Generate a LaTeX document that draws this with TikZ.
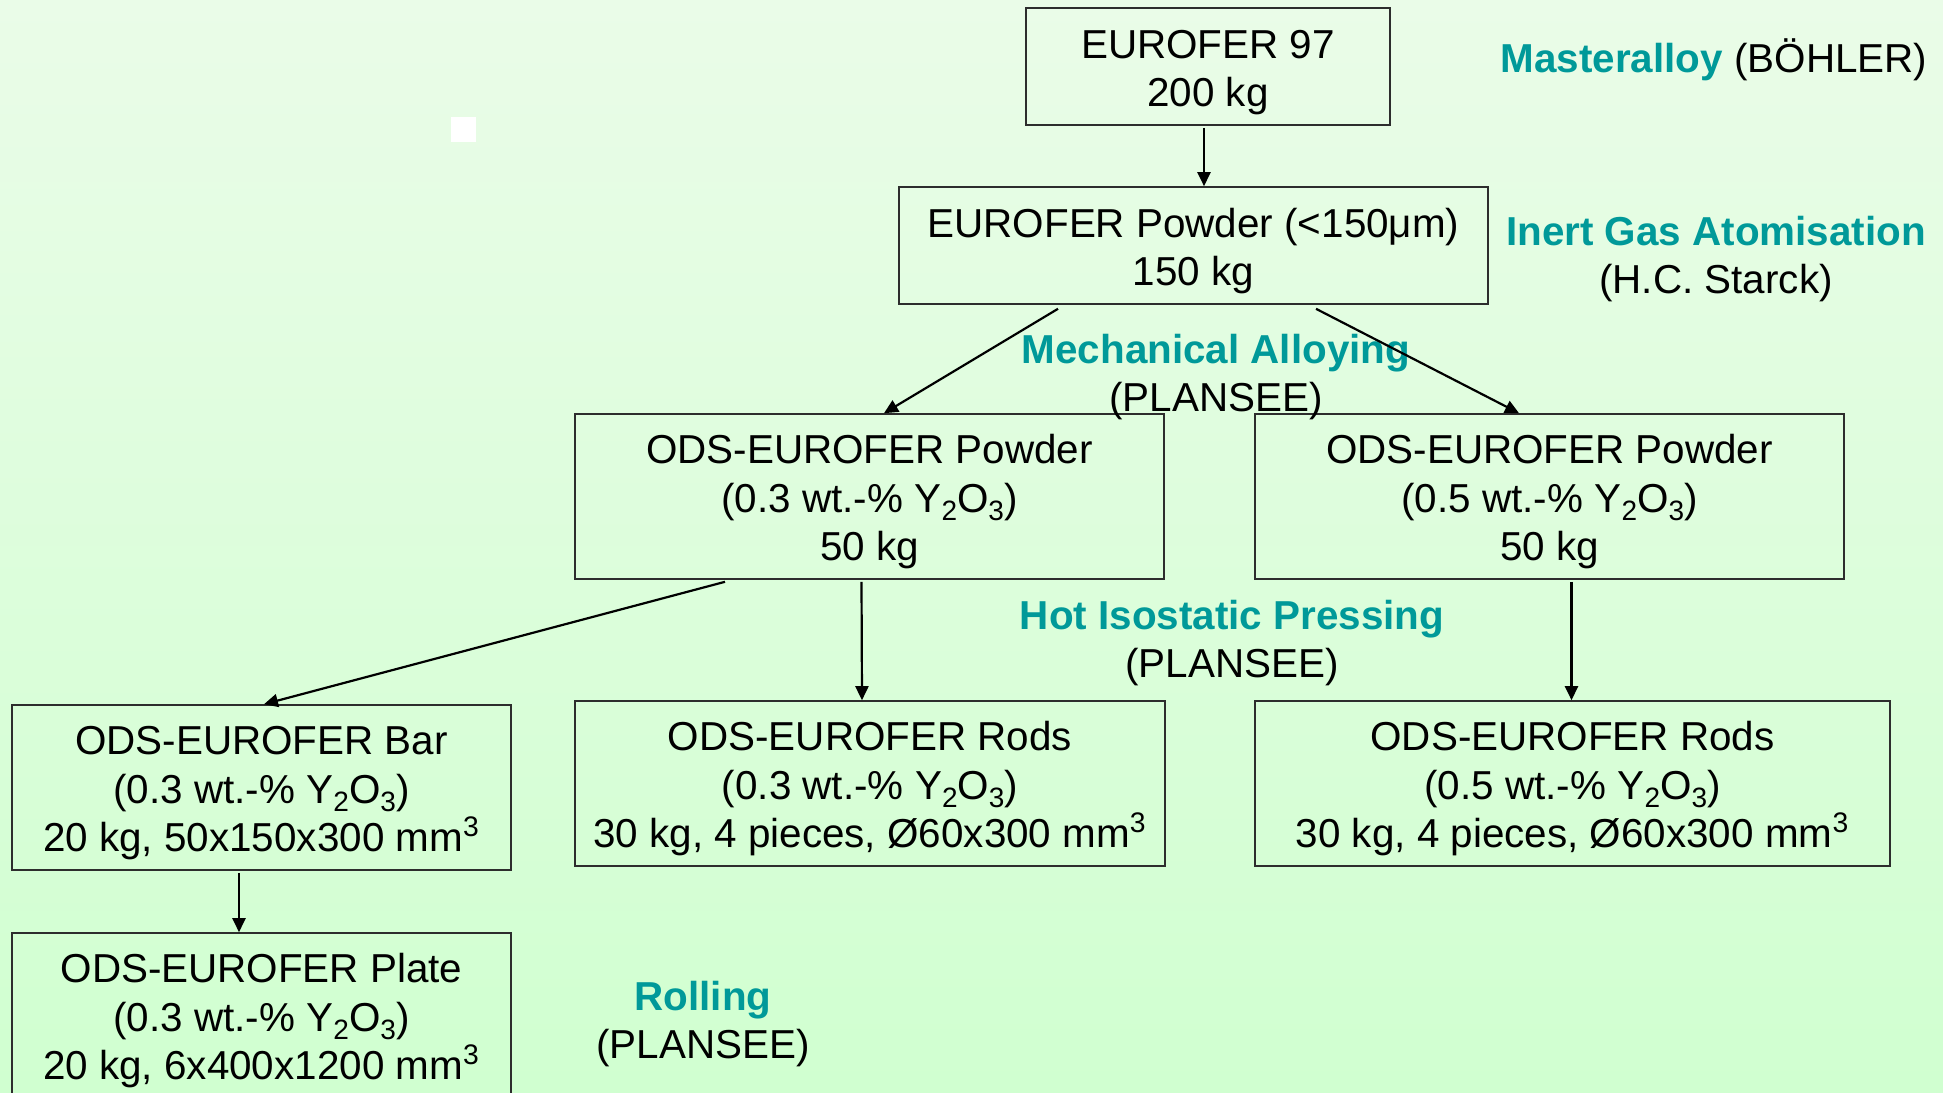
\documentclass[tikz,border=0pt]{standalone}
\usepackage{fontspec}
\setmainfont{Liberation Sans}
\usetikzlibrary{arrows.meta}
\definecolor{bgtop}{RGB}{234,252,232}
\definecolor{bgbot}{RGB}{208,255,208}
\definecolor{tealtxt}{RGB}{0,153,153}
\definecolor{boxline}{RGB}{45,45,45}
\newcommand{\mainfs}{\fontsize{20.2}{24.3}\selectfont}
\newcommand{\lowsub}[1]{\raisebox{-4.2pt}{\fontsize{14}{14}\selectfont #1}}
\newcommand{\yo}{Y\lowsub{2}O\lowsub{3}}
\newcommand{\hd}[1]{{\bfseries\color{tealtxt}#1}}
\newcommand{\tp}{\rule{0pt}{20pt}}
\begin{document}
\begin{tikzpicture}[x=0.5pt,y=-0.5pt,
  box/.style={draw=boxline, line width=0.8pt, inner sep=0pt, align=center, font=\mainfs, text=black},
  lbl/.style={align=center, font=\mainfs, inner sep=0pt, text=black},
  conn/.style={line width=1.1pt, -{Triangle[length=7pt,width=6.5pt]}},
]
\useasboundingbox (0,0) rectangle (1943,1092);
\clip (0,0) rectangle (1943,1092);
\shade[top color=bgtop, bottom color=bgbot] (0,0) rectangle (1943,1092);
\fill[white] (451,117) rectangle (476,142);

% boxes
\node[box, minimum width=182pt, minimum height=58.5pt] (b1) at (1208,66.5)
  {\tp EUROFER 97\\200 kg};
\node[box, minimum width=294.5pt, minimum height=58.5pt] (b2) at (1193.5,245.5)
  {\tp EUROFER Powder (<150μm)\\150 kg};
\node[box, minimum width=294.5pt, minimum height=82.5pt] (b3) at (869.5,496.5)
  {\tp ODS-EUROFER Powder\\(0.3 wt.-\% \yo)\\50 kg};
\node[box, minimum width=294.5pt, minimum height=82.5pt] (b4) at (1549.5,496.5)
  {\tp ODS-EUROFER Powder\\(0.5 wt.-\% \yo)\\50 kg};
\node[box, minimum width=249.5pt, minimum height=82.5pt] (bar) at (261.5,787.5)
  {\tp ODS-EUROFER Bar\\(0.3 wt.-\% \yo)\\20 kg, 50x150x300 mm\textsuperscript{3}};
\node[box, minimum width=295pt, minimum height=82.5pt] (rods1) at (870,783.5)
  {\tp ODS-EUROFER Rods\\(0.3 wt.-\% \yo)\\30 kg, 4 pieces, Ø60x300 mm\textsuperscript{3}};
\node[box, minimum width=317.5pt, minimum height=82.5pt] (rods2) at (1572.5,783.5)
  {\tp ODS-EUROFER Rods\\(0.5 wt.-\% \yo)\\30 kg, 4 pieces, Ø60x300 mm\textsuperscript{3}};
\node[box, minimum width=249.5pt, minimum height=82.5pt] (plate) at (261.5,1015.5)
  {\tp ODS-EUROFER Plate\\(0.3 wt.-\% \yo)\\20 kg, 6x400x1200 mm\textsuperscript{3}};

% process labels
\node[lbl] (l1) at (1714,60) {\hd{Masteralloy} (BÖHLER)};
\node[lbl] (l2) at (1716,259) {\hd{Inert Gas Atomisation}\\(H.C. Starck)};
\node[lbl] (l3) at (1216,377) {\hd{Mechanical Alloying}\\(PLANSEE)};
\node[lbl] (l4) at (1232,643) {\hd{Hot Isostatic Pressing}\\(PLANSEE)};
\node[lbl] (l5) at (703,1024) {\hd{Rolling}\\(PLANSEE)};

% connectors
\draw[conn] ([xshift=-2pt,yshift=-1pt]b1.south) -- ([xshift=5.25pt]b2.north);
\draw[conn] ([xshift=-67.75pt,yshift=-2pt]b2.south) -- ([xshift=7.25pt]b3.north);
\draw[conn] ([xshift=61.25pt,yshift=-2pt]b2.south) -- ([xshift=-15.25pt]b4.north);
\draw[conn] ([xshift=-72.25pt,yshift=-1pt]b3.south) -- ([xshift=1.25pt]bar.north);
\draw[conn] ([xshift=-4pt,yshift=-1pt]b3.south) -- ([xshift=-4pt]rods1.north);
\draw[conn] ([xshift=11pt,yshift=-1pt]b4.south) -- ([xshift=-0.5pt]rods2.north);
\draw[conn] ([xshift=-11.25pt,yshift=-1pt]bar.south) -- ([xshift=-11.25pt]plate.north);
\end{tikzpicture}
\end{document}
